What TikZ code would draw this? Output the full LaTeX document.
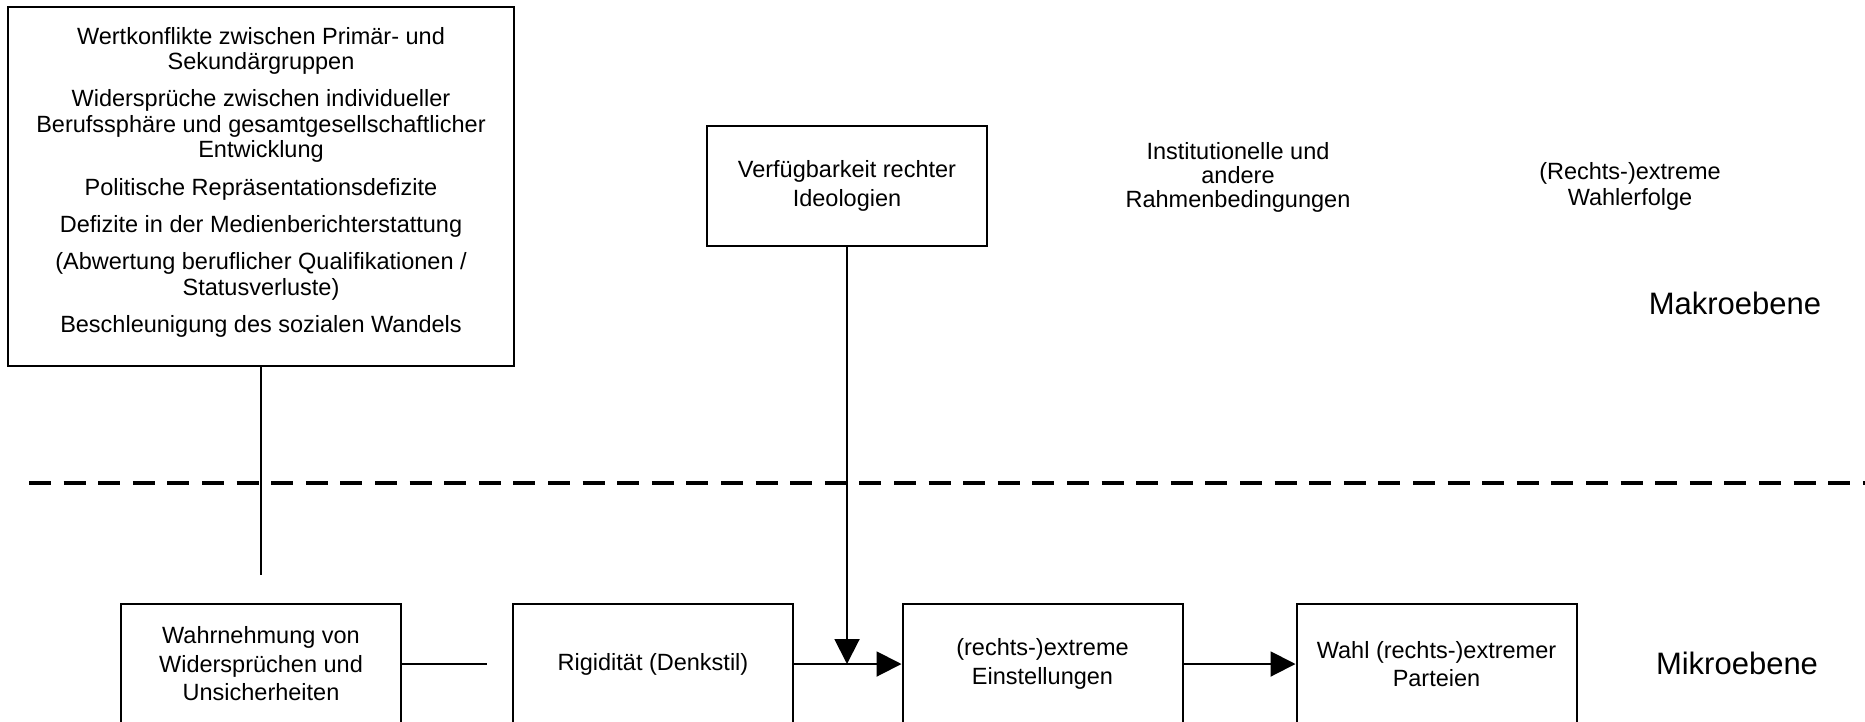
\documentclass[tikz,border=0pt]{standalone}
\usepackage{fontspec}
\setmainfont{Liberation Sans}
\usetikzlibrary{arrows.meta}
\begin{document}
\begin{tikzpicture}[x=1pt,y=-1pt,
  box/.style={draw, line width=2pt, minimum width=280pt, minimum height=120pt, inner sep=0pt, align=center, font=\fontsize{23.5}{28.5}\selectfont},
  bigbox/.style={draw, line width=2pt, minimum width=506pt, minimum height=359pt, inner sep=0pt},
  conn/.style={line width=2pt},
  arr/.style={line width=2pt, -{Triangle[length=25pt,width=25pt]}},
  lbl/.style={align=center, inner sep=0pt, font=\fontsize{23.5}{26}\selectfont},
  level/.style={inner sep=0pt, font=\fontsize{31}{36}\selectfont},
  divider/.style={line width=4pt, dash pattern=on 22pt off 12.6pt}
]
\useasboundingbox (0,0) rectangle (1865,721);
\clip (0,0) rectangle (1865,721);

% Makro level
\node[bigbox] (causes) at (261,186.5) {};
\node[anchor=north, align=center, inner sep=0pt, font=\fontsize{23.5}{25.5}\selectfont] (causestxt) at (261,27)
 {Wertkonflikte zwischen Primär- und\\Sekundärgruppen\\[11.7pt]
  Widersprüche zwischen individueller\\Berufssphäre und gesamtgesellschaftlicher\\Entwicklung\\[11.7pt]
  Politische Repräsentationsdefizite\\[11.7pt]
  Defizite in der Medienberichterstattung\\[11.7pt]
  (Abwertung beruflicher Qualifikationen /\\Statusverluste)\\[11.7pt]
  Beschleunigung des sozialen Wandels};
\node[box] (verf) at (847,186) {Verfügbarkeit rechter\\Ideologien};
\node[lbl, font=\fontsize{23.5}{24}\selectfont] (inst) at (1238,177) {Institutionelle und\\andere\\Rahmenbedingungen};
\node[lbl] (erfolg) at (1630,186) {(Rechts-)extreme\\Wahlerfolge};
\node[level] (makro) at (1735,303) {Makroebene};

% divider
\coordinate (dashL) at (29,483);
\coordinate (dashR) at (1865,483);
\draw[divider] (dashL) -- (dashR);

% Mikro level
\node[box] (wahrn) at (261,664) {Wahrnehmung von\\Widersprüchen und\\Unsicherheiten};
\node[box] (rig) at (653,664) {Rigidität (Denkstil)};
\node[box] (einst) at (1042.5,664) {(rechts-)extreme\\Einstellungen};
\node[box] (wahl) at (1436.5,664) {Wahl (rechts-)extremer\\Parteien};
\node[level] (mikro) at (1737,663) {Mikroebene};

% connectors
\coordinate (causesend) at (261,575);
\draw[conn] (causes.south) -- (causesend);
\coordinate (wahrnend) at (487,664);
\draw[conn] (wahrn.east) -- (wahrnend);
\coordinate (join) at (847,664);
\draw[conn] (rig.east) -- (join);
\draw[arr] (join) -- (einst.west);
\draw[arr] (verf.south) -- (join);
\draw[arr] (einst.east) -- (wahl.west);
\end{tikzpicture}
\end{document}
